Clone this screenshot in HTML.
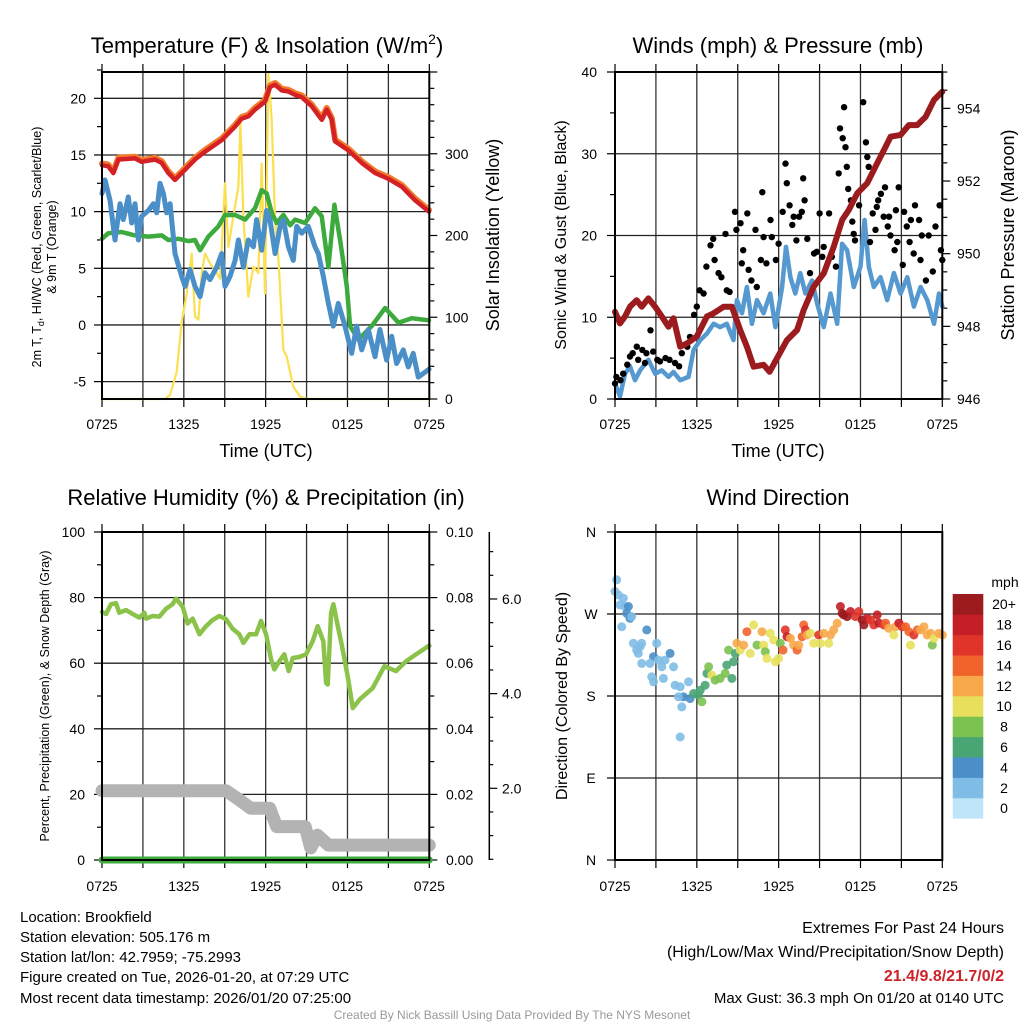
<!DOCTYPE html>
<html><head><meta charset="utf-8"><style>
html,body{margin:0;padding:0;background:#fff;}
svg{display:block;font-family:"Liberation Sans",sans-serif;}
</style></head><body>
<svg id="fig" width="1024" height="1024" viewBox="0 0 1024 1024" xmlns="http://www.w3.org/2000/svg">
<rect width="1024" height="1024" fill="#fff"/>
<g font-size="22" text-anchor="middle" fill="#000">
<text x="267" y="53">Temperature (F) &amp; Insolation (W/m<tspan font-size="14" dy="-9">2</tspan><tspan dy="9">)</tspan></text>
<text x="778" y="53">Winds (mph) &amp; Pressure (mb)</text>
<text x="266" y="505">Relative Humidity (%) &amp; Precipitation (in)</text>
<text x="778" y="505">Wind Direction</text>
</g>
<g font-size="18" text-anchor="middle">
<text x="266" y="457">Time (UTC)</text>
<text x="778" y="457">Time (UTC)</text>
<text transform="translate(499,235) rotate(-90)">Solar Insolation (Yellow)</text>
<text transform="translate(566,235) rotate(-90)" font-size="16">Sonic Wind &amp; Gust (Blue, Black)</text>
<text transform="translate(1014,235) rotate(-90)">Station Pressure (Maroon)</text>
<text transform="translate(567,696) rotate(-90)" font-size="16">Direction (Colored By Speed)</text>
</g>
<g font-size="12.5" text-anchor="middle">
<text transform="translate(41,247) rotate(-90)">2m T, T<tspan font-size="9" dy="3">d</tspan><tspan dy="-3">, HI/WC (Red, Green, Scarlet/Blue)</tspan></text>
<text transform="translate(56,247) rotate(-90)">&amp; 9m T (Orange)</text>
<text transform="translate(49,696) rotate(-90)">Percent, Precipitation (Green), &amp; Snow Depth (Gray)</text>
</g>
<g id="layer"></g>
<g font-size="15" fill="#000">
<text x="20" y="922">Location: Brookfield</text>
<text x="20" y="942">Station elevation: 505.176 m</text>
<text x="20" y="962">Station lat/lon: 42.7959; -75.2993</text>
<text x="20" y="982">Figure created on Tue, 2026-01-20, at 07:29 UTC</text>
<text x="20" y="1003">Most recent data timestamp: 2026/01/20 07:25:00</text>
</g>
<g font-size="16" text-anchor="end">
<text x="1004" y="933">Extremes For Past 24 Hours</text>
<text x="1004" y="957">(High/Low/Max Wind/Precipitation/Snow Depth)</text>
<text x="1004" y="981" fill="#cc2229" font-weight="bold">21.4/9.8/21.7/0/2</text>
<text x="1004" y="1003" font-size="15">Max Gust: 36.3 mph On 01/20 at 0140 UTC</text>
</g>
<text x="512" y="1019" font-size="12" fill="#999" text-anchor="middle">Created By Nick Bassill Using Data Provided By The NYS Mesonet</text>
</svg>
<script>
// ---------- data ----------
const xTickLabels = ["0725","1325","1925","0125","0725"];
const tempHours = [0,0.46,0.83,1.2,2.42,2.9,3.89,4.38,4.87,5.35,6.09,6.82,7.56,8.78,9.76,10.24,10.73,11.22,11.95,12.32,12.69,13.18,13.67,14.16,14.65,15.38,16.12,16.48,16.85,17.09,18.07,19.05,20.03,21.0,21.98,22.96,23.98];
const tempValues = [14.1,14,13.4,14.6,14.7,14.4,14.6,14.3,13.4,12.8,13.7,14.6,15.3,16.3,17.5,18.2,18.4,19,19.7,21,21.2,20.7,20.6,20.3,20.1,19.3,18.1,19,18.1,16.2,15.4,14.3,13.4,12.9,12.2,11,10];
const dewHours = [0,0.22,0.59,0.95,1.32,1.56,1.93,2.18,2.42,2.67,2.91,3.4,3.77,4.01,4.25,4.5,4.74,4.99,5.35,5.84,6.09,6.45,6.82,7.19,7.55,7.92,8.41,8.78,9.02,9.39,9.76,10,10.37,10.73,11.1,11.34,11.71,12.07,12.32,12.69,13.06,13.3,13.67,14.03,14.28,14.64,15.13,15.62,15.86,16.23,16.6,16.96,17.33,17.82,18.31,18.67,19.04,19.53,20.02,20.38,20.87,21.24,21.6,22.09,22.46,22.82,23.19,23.98];
const dewValues = [11.6,12.8,11,7.5,10.7,9.3,11.3,9,10.7,7.5,9.6,10.1,10.7,9.9,12.5,11.6,9.9,10.7,6.3,4.3,3.4,4.9,3.4,2.5,4.6,4,5.1,6.3,3.4,4.3,5.7,7.5,5.1,7.5,6.9,9.3,6.6,10.1,9.3,6.3,8.7,9.3,6.9,5.7,8.7,8.1,8.7,6.9,6.3,4.3,1.9,-0.1,1.9,-0.1,-2.5,-0.1,-2.2,-0.4,-2.8,-0.4,-3.1,-1,-3.4,-2.2,-3.7,-2.5,-4.6,-3.9];
const hiwcHours = [0,0.46,1.44,2.42,3.4,4.38,4.87,5.6,6.33,6.82,7.19,7.8,8.53,9.02,9.76,10.49,11.22,11.71,12.08,12.44,12.81,13.3,13.79,14.16,14.89,15.62,16.11,16.6,17.04,17.46,17.95,18.19,18.8,19.78,20.76,21.74,22.71,23.98];
const hiwcValues = [7.6,8.1,8.2,7.9,7.8,7.9,7.5,7.6,7.4,7.5,6.6,7.8,8.7,9.7,9.7,9.3,10.3,11.9,11.6,9.9,9,9.7,8.8,9.3,9,10.3,9.6,5.1,10.6,7.5,3.4,-0.1,-1.3,-0.1,1.5,0.2,0.6,0.4];
const solarHours = [0,4.62,4.99,5.48,5.84,6.21,6.58,6.82,7.07,7.31,7.56,7.92,8.41,8.66,9.02,9.27,9.63,10.0,10.15,10.37,10.73,11.1,11.46,11.71,11.95,12.2,12.44,12.69,12.93,13.3,13.54,14.03,14.52,15.01,23.98];
const solarValues = [0,0,5,33,93,129,178,101,97,154,178,166,154,147,264,186,223,260,337,223,125,162,154,288,129,400,341,219,174,60,52,15,3,0,0];
const pressHours = [0,0.37,0.73,1.1,1.59,1.96,2.45,2.94,3.43,3.92,4.29,4.78,5.27,6.0,6.74,7.23,7.96,8.57,9.18,9.67,10.16,10.9,11.34,11.88,12.61,13.35,13.84,14.57,15.31,16.04,16.66,17.14,17.76,18.49,19.23,19.72,20.21,20.94,21.55,22.16,22.78,23.39,24.0];
const pressValues = [948.4,948.08,948.27,948.54,948.72,948.54,948.77,948.54,948.27,947.99,948.22,947.44,947.53,947.72,948.27,948.36,948.54,948.54,947.9,947.44,946.89,946.94,946.75,947.12,947.62,947.9,948.45,949.09,949.46,950.19,950.93,951.2,951.66,951.94,952.49,952.85,953.22,953.27,953.54,953.54,953.77,954.23,954.46];
const windHours = [0,0.37,0.73,1.1,1.47,1.84,2.45,2.94,3.43,3.92,4.29,4.78,5.39,5.76,6.25,6.74,7.23,7.71,8.2,8.69,8.94,9.31,9.67,10.04,10.41,10.9,11.39,11.76,12.25,12.54,12.86,13.22,13.59,13.96,14.45,14.82,15.31,15.8,16.29,16.65,17.02,17.51,18,18.3,18.61,18.98,19.47,19.96,20.45,20.94,21.43,21.92,22.41,22.9,23.39,23.76,24];
const windValues = [1.9,0.3,3.1,4,2.3,3.5,4.8,3.1,3.5,2.7,3.3,2.3,2.7,6,7.2,8,9.2,8.8,9.2,7.2,12.1,10.5,13.7,9.2,12.1,10.5,12.9,8.8,13.7,18.6,14.9,12.9,15.4,12.9,14.5,11.7,8.8,12.9,9.2,19,18.2,13.7,16.2,21.9,16.2,13.7,14.9,12.1,15.4,12.9,14.9,11.3,13.7,12.1,9.2,12.9,11.3];
const gustHours = [0,0.1,0.4,0.6,0.9,1.1,1.3,1.6,1.7,2,2.2,2.3,2.6,2.8,3.1,3.3,3.7,4,4.4,4.7,4.9,5.3,5.5,5.8,6,6.2,6.5,6.7,7,7.2,7.3,7.6,7.8,8.1,8.2,8.4,8.8,8.9,9.2,9.3,9.4,9.7,9.8,10,10.3,10.4,10.7,10.8,10.9,11.1,11.4,11.5,11.8,12,12.3,12.5,12.6,12.8,13,13.1,13.3,13.5,13.7,13.8,13.9,14.1,14.3,14.6,14.8,15,15.2,15.3,15.7,15.9,16.2,16.4,16.5,16.7,16.8,16.9,17,17.1,17.3,17.4,17.5,17.6,17.9,18.2,18.4,18.5,18.6,18.7,18.9,19.1,19.2,19.3,19.5,19.7,19.8,20,20.1,20.2,20.5,20.6,20.7,20.8,21.1,21.2,21.4,21.6,21.7,21.9,22,22.3,22.4,22.5,22.8,23,23.3,23.5,23.8,23.9,24];
const gustValues = [1.9,2.7,2.3,3.1,4.2,5.2,5.6,6.4,4.8,6,4.4,5.6,8.4,5.8,4.8,4.6,5,4.8,4.4,4,5.6,6.4,7.6,10.3,11.3,13.3,12.9,16.2,18.8,19.6,17,15.4,14.9,20.2,13.3,13.1,22.9,20.7,21.5,16.6,18.2,22.7,15.8,14.5,20.7,13.7,17,25.3,19.8,16.6,21.9,19.8,17,19,22.9,28.8,26.4,23.7,21.3,22.3,19.4,22.3,22.9,27,24.3,19.6,15.4,17.8,18,22.7,17.4,18.6,22.7,17.4,16.2,27.6,33.1,31.9,35.7,30.8,28.4,25.7,24.3,21.7,20.2,19.4,23.7,36.3,31.4,29.6,28.4,19.2,22.7,20.7,23.5,24.3,25.1,22.3,25.9,21.1,22.3,20,18.2,23.1,19.2,25.9,16.4,22.9,21.1,19.2,21.9,17.8,23.7,21.9,17,20,14.5,20,15.6,21.1,23.7,18.2,17];
const rhHours = [0,0.29,0.66,1.03,1.27,1.76,2.25,2.74,3.11,3.23,3.72,4.21,4.69,5.18,5.43,5.92,6.28,6.65,7.14,7.63,8.12,8.61,9.1,9.58,10.07,10.37,10.81,11.3,11.66,12.03,12.4,12.64,13.0,13.37,13.69,13.98,14.47,14.96,15.45,15.82,16.23,16.43,16.55,16.8,16.97,17.29,17.6,18.02,18.39,18.88,19.85,20.71,21.56,22.3,23.03,24.0];
const rhValues = [75.6,75,78,78.3,75.4,76.2,75,73.9,75.4,73.6,74.4,74.2,76.6,78,79.7,77.2,72.1,73.6,68.8,71.3,73.2,74.4,73.4,70.5,68.8,66.2,68.8,68.8,72.9,68.8,61.1,58.1,60.6,62.7,57.6,61.6,61.9,62.7,66.7,71.3,66.7,54,53.5,75.4,78,71.3,65.2,56,46.3,48.9,52.4,59.1,57.6,60.6,62.7,65.4];
const precipHours = [0,24];
const precipValues = [0,0];
const snowHours = [0,9.1,10.1,10.9,12.3,12.8,14.9,15.3,15.8,16.6,17.5,24];
const snowValues = [1.95,1.95,1.75,1.58,1.58,1.19,1.19,0.74,1.01,0.8,0.8,0.8];
const dirHours = [0.12,0,0.24,0.61,0.37,0.73,0.98,0.86,1.1,1.22,0.49,2.33,1.35,1.59,1.84,1.96,1.71,3.06,2.82,2.57,3.18,3.43,3.67,4.04,4.29,1.96,2.69,2.82,3.55,4.41,4.78,5.39,5.02,4.65,5.51,4.9,4.78,5.76,6.12,6.37,6.25,6.61,6.74,6.86,7.1,7.35,7.71,8.08,8.2,8.33,8.57,8.69,8.82,8.94,9.18,9.43,9.67,9.92,10.16,10.41,10.78,10.9,11.02,11.14,11.39,11.63,11.76,12,12.12,12.32,12.49,12.61,12.86,13.1,13.35,13.47,13.72,13.84,13.96,14.08,14.33,14.57,14.94,15.06,15.31,15.67,15.8,16.04,16.29,16.53,16.78,16.65,17.02,17.27,17.63,17.88,18.12,18.25,18.49,18.74,18.98,19.23,19.35,19.72,19.84,20.08,20.45,20.57,20.82,21.06,21.31,21.55,21.67,21.92,22.17,22.41,22.65,22.9,23.14,23.27,23.39,23.76,24];
const dirValues = [307.5,294.7,291,287.3,280,278.2,278.2,270.8,265.3,267.1,256.1,252.5,237.8,230.4,234.1,237.8,226.8,237.8,223.1,215.8,219.4,212.1,219.4,226.8,212.1,215.8,201.1,195.6,199.3,191.9,190.1,195.6,179.1,179.1,177.2,168,135,182.7,180.9,173.6,186.4,191.9,204.8,212.1,202.9,197.4,199.3,204.8,213.9,230.4,199.3,217.6,226.8,237.8,230.4,235.9,250.6,226.8,258,235.9,250.6,235.9,228.6,221.3,248.8,241.5,217.6,221.3,237.8,230.4,252.5,245.1,243.3,235.9,230.4,235.9,245.1,258,252.5,247,248.8,237.8,247,237.8,248.8,237.8,247,252.5,259.8,278.2,269,270.8,267.1,272.7,267.1,272.7,263.5,258,265.3,263.5,258,269,260,258,260,254.3,247,256.1,260,256.1,256.1,250.6,235.9,247,252.5,252.5,256.1,247,248.8,235.9,243.3,248.8,247];
const dirSpeeds = [1,2,2,2,2,2,4,4,4,2,2,4,2,2,2,2,2,2,4,2,2,2,2,4,2,2,2,2,2,2,2,2,4,2,4,2,2,6,6,8,6,6,6,8,10,8,8,8,6,8,6,6,6,12,10,12,14,10,10,8,12,10,8,10,10,10,10,10,8,14,16,18,12,12,14,12,14,14,16,12,10,10,16,10,12,10,12,12,12,18,20,20,20,18,16,16,20,20,18,16,16,18,18,16,14,12,10,12,18,16,14,14,10,16,14,12,12,12,12,8,10,12,12];
const speedBins = ["0","2","4","6","8","10","12","14","16","18","20+"];
const speedColors = ["#bfe6f8","#80bde6","#4a8fc8","#4aa574","#7cc250","#e8e05c","#f7a84a","#f0642c","#e0342a","#c41e26","#9b1b1e"];
const dirLabels = ["N","E","S","W","N"];

// ---------- helpers ----------
const NS="http://www.w3.org/2000/svg";
const layer=document.getElementById('layer');
function mk(tag,attrs,parent){const e=document.createElementNS(NS,tag);for(const k in attrs)e.setAttribute(k,attrs[k]);(parent||layer).appendChild(e);return e;}
function pathD(xs,ys,fx,fy){let d="";const n=Math.min(xs.length,ys.length);for(let i=0;i<n;i++){d+=(i?"L":"M")+fx(xs[i]).toFixed(1)+","+fy(ys[i]).toFixed(1);}return d;}
const TW=327.3;
function axX(left){return h=>left+h*TW/24;}
function frameAndX(left,top,bottom,labY){
  const fx=axX(left);
  for(let h=0;h<=24;h+=3){
    const x=fx(h);
    if(h>0&&h<24){const g=mk('line',{x1:x,x2:x,y1:top,y2:bottom,stroke:'#333','stroke-width':1.3});
      
      }
    const t1=mk('line',{x1:x,x2:x,y1:top-8,y2:top,stroke:'#000','stroke-width':1.2});
    
    
    const t2=mk('line',{x1:x,x2:x,y1:bottom,y2:bottom+8,stroke:'#000','stroke-width':1.2});
    
    
    if(h%6===0){const t=mk('text',{x:x,y:labY,'font-size':14,'text-anchor':'middle'});t.textContent=xTickLabels[h/6];
      
      }
  }
  return fx;
}
function frame(left,top,bottom,name){
  const r=mk('rect',{x:left,y:top,width:TW,height:bottom-top,fill:'none',stroke:'#000','stroke-width':2});
  
  
}
function hgrid(left,y){const g=mk('line',{x1:left,x2:left+TW,y1:y,y2:y,stroke:'#222','stroke-width':1.3});
  
  }
function ytick(x,y,len,name){const t=mk('line',{x1:x,x2:x+len,y1:y,y2:y,stroke:'#000','stroke-width':1.2});
  
  }
function ylab(x,y,txt,anchor,name,size){const t=mk('text',{x:x,y:y+5,'font-size':size||14,'text-anchor':anchor});t.textContent=txt;
  
  }
function line(d,color,w,name){const p=mk('path',{d:d,fill:'none',stroke:color,'stroke-width':w,'stroke-linejoin':'round','stroke-linecap':'round'});
  
  return p;}

// ---------- Panel 1 ----------
{const L=102,T=72,B=399;
 const yT=v=>98.3+(20-v)*11.333, yS=s=>B-s*0.8175;
 const fx=frameAndX(L,T,B,429);
 for(let v=-5;v<=20;v+=5){hgrid(L,yT(v));ytick(L-8,yT(v),8,'temp-y-tick');ylab(86,yT(v),String(v),'end','temp-y-tick-label');}
 for(let v=-2.5;v<=22.5;v+=5){ytick(L-5,yT(v),5,'temp-y-minor-tick');}
 for(let s=0;s<=400;s+=20){ytick(L+TW,yS(s),s%100===0?8:5,'solar-y-tick');}
 for(let s=0;s<=300;s+=100){ylab(445,yS(s),String(s),'start','solar-y-tick-label');}
 line(pathD(solarHours,solarValues,fx,yS),'#fbe050',2.2,'solar-insolation-line');
 line(pathD(hiwcHours,hiwcValues,fx,yT),'#3daa3d',4.5,'heat-index-windchill-line');
 line(pathD(dewHours,dewValues,fx,yT),'#4a8fc8',5,'dewpoint-line');
 line(pathD(tempHours,tempValues.map(v=>v+0.15),fx,yT),'#f47b2a',6,'temperature-9m-line');
 line(pathD(tempHours,tempValues,fx,yT),'#d42126',4.5,'temperature-2m-line');
 frame(L,T,B,'temperature-plot-frame');}

// ---------- Panel 2 ----------
{const L=615,T=72,B=399;
 const yW=v=>B-v*8.175, yP=p=>B-(p-946)*36.33;
 const fx=frameAndX(L,T,B,429);
 for(let v=0;v<=40;v+=10){if(v>0&&v<40)hgrid(L,yW(v));ytick(L-8,yW(v),8,'wind-y-tick');ylab(597,yW(v),String(v),'end','wind-y-tick-label');}
 for(let v=5;v<=35;v+=10){ytick(L-5,yW(v),5,'wind-y-minor-tick');}
 for(let p=946;p<=955;p+=0.5){ytick(L+TW,yP(p),p%2===0?8:5,'pressure-y-tick');}
 for(let p=946;p<=954;p+=2){ylab(957,yP(p),String(p),'start','pressure-y-tick-label');}
 line(pathD(windHours,windValues,fx,yW),'#5599d0',4.5,'sonic-wind-line');
 for(let i=0;i<gustHours.length;i++){const c=mk('circle',{cx:fx(gustHours[i]).toFixed(1),cy:yW(gustValues[i]).toFixed(1),r:3.2,fill:'#000'});
   
   }
 line(pathD(pressHours,pressValues,fx,yP),'#9b1b1e',6,'station-pressure-line');
 frame(L,T,B,'winds-plot-frame');}

// ---------- Panel 3 ----------
{const L=102,T=532,B=860;
 const yRH=v=>B-v*3.28, yPr=v=>B-v*3280, ySn=s=>788.3-(s-2)*47.33;
 const fx=frameAndX(L,T,B,891);
 for(let v=0;v<=100;v+=20){if(v>0&&v<100)hgrid(L,yRH(v));ytick(L-8,yRH(v),8,'humidity-y-tick');ylab(85,yRH(v),String(v),'end','humidity-y-tick-label');}
 for(let v=10;v<=90;v+=20){ytick(L-5,yRH(v),5,'humidity-y-minor-tick');}
 for(let i=0;i<=10;i++){ytick(L+TW,yPr(i/100),i%2===0?8:5,'precip-y-tick');}
 for(let i=0;i<=10;i+=2){ylab(446,yPr(i/100),(i/100).toFixed(2),'start','precip-y-tick-label');}
 const ax=mk('line',{x1:489.3,x2:489.3,y1:T,y2:B,stroke:'#000','stroke-width':1.5});
 
 
 for(let s=0;s<=14;s++){const v=s*0.5;const y=ySn(v);if(y<T||y>B)continue;ytick(489.3,y,v%2===0?8:4,'snow-y-tick');}
 for(let v=2;v<=6;v+=2){ylab(502,ySn(v),v.toFixed(1),'start','snow-y-tick-label');}
 line(pathD(snowHours,snowValues,fx,ySn),'#b3b3b3',13,'snow-depth-line');
 line(pathD(rhHours,rhValues,fx,yRH),'#8bc34a',4.5,'relative-humidity-line');
 line(pathD(precipHours,precipValues,fx,yPr),'#3daa3d',7,'precipitation-line');
 frame(L,T,B,'humidity-plot-frame');}

// ---------- Panel 4 ----------
{const L=615,T=532,B=860;
 const yD=d=>B-d*(328/360);
 const fx=frameAndX(L,T,B,891);
 for(let i=0;i<=4;i++){const y=yD(i*90);if(i>0&&i<4)hgrid(L,y);ytick(L-8,y,8,'direction-y-tick');ylab(591,y,dirLabels[i],'middle','direction-y-tick-label');}
 const n=Math.min(dirHours.length,dirValues.length,dirSpeeds.length);
 for(let i=0;i<n;i++){const c=mk('circle',{cx:fx(dirHours[i]).toFixed(1),cy:yD(dirValues[i]).toFixed(1),r:4.5,fill:speedColors[Math.min(10,Math.round(dirSpeeds[i]/2))],'fill-opacity':0.9});
   
   }
 frame(L,T,B,'direction-plot-frame');
 const hb=20.4,top=594;
 for(let k=0;k<11;k++){const y=top+(10-k)*hb;
   const r=mk('rect',{x:952.7,y:y,width:30.6,height:hb+0.3,fill:speedColors[k]});
   
   
   const t=mk('text',{x:1004,y:y+hb/2+5,'font-size':14,'text-anchor':'middle'});t.textContent=speedBins[k];
   
   }
 const u=mk('text',{x:1005,y:587,'font-size':14,'text-anchor':'middle'});u.textContent='mph';
 
 }
</script>
</body></html>
